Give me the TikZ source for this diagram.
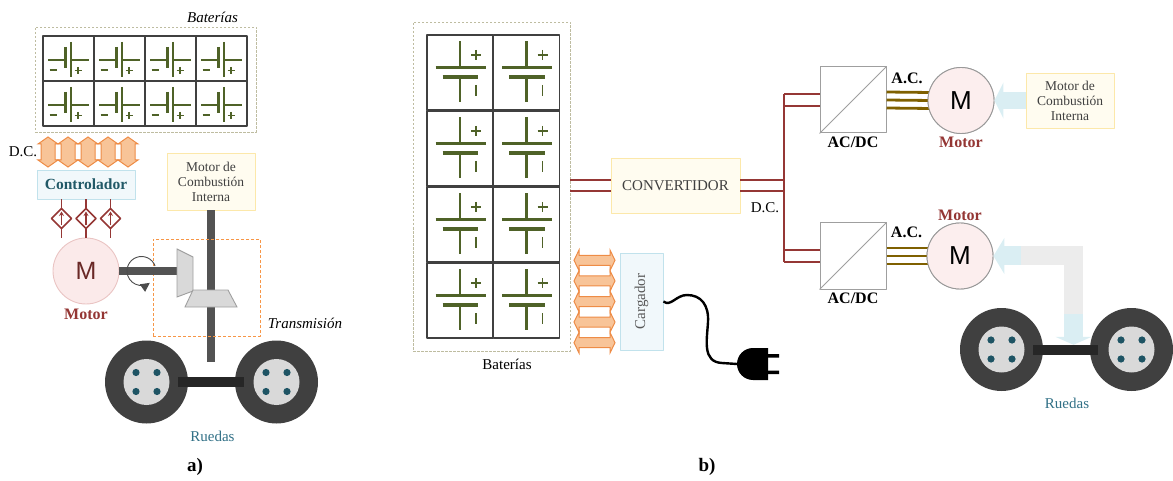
\documentclass[tikz,border=0pt]{standalone}
\usepackage{fontspec}
\setmainfont{Liberation Serif}
\newfontfamily\msans{Liberation Sans}
\usetikzlibrary{arrows.meta,positioning,calc}

\definecolor{batgreen}{RGB}{79,98,40}
\definecolor{packedge}{RGB}{190,188,160}
\definecolor{wirered}{RGB}{149,55,53}
\definecolor{acbrown}{RGB}{127,96,0}
\definecolor{dcorange}{RGB}{248,196,152}
\definecolor{dcedge}{RGB}{238,140,70}
\definecolor{transorange}{RGB}{247,150,70}
\definecolor{ctrlteal}{RGB}{33,89,103}
\definecolor{ruedablue}{RGB}{49,112,134}
\definecolor{tire}{RGB}{64,64,64}
\definecolor{hub}{RGB}{217,217,217}
\definecolor{bolt}{RGB}{30,84,100}
\definecolor{axlecol}{RGB}{38,38,38}
\definecolor{motpink}{RGB}{251,234,234}
\definecolor{motedge}{RGB}{234,196,195}
\definecolor{motred}{RGB}{148,54,52}
\definecolor{mred}{RGB}{105,40,38}
\definecolor{yelfill}{RGB}{255,252,240}
\definecolor{yeledge}{RGB}{252,232,170}
\definecolor{bluefill}{RGB}{241,248,251}
\definecolor{blueedge}{RGB}{193,226,236}
\definecolor{flowblue}{RGB}{218,238,243}
\definecolor{flowgray}{RGB}{236,236,236}

\newcommand\fsz[2]{\fontsize{#1}{#2}\selectfont}

\tikzset{
  cellbox/.style={draw=black!75, line width=1.4pt, fill=white},
  batline/.style={draw=batgreen, line width=2.2pt},
  batsign/.style={draw=batgreen, line width=1.8pt},
  packframe/.style={draw=packedge, dash pattern=on 2.5pt off 1.5pt, line width=0.8pt, inner sep=0pt},
  transframe/.style={draw=transorange, dash pattern=on 3pt off 2pt, line width=0.9pt, inner sep=0pt},
  dcflow/.style={fill=dcorange, draw=dcedge, line width=1pt, line join=miter},
  ctrlwire/.style={draw=wirered, line width=1.5pt},
  dcwire/.style={draw=wirered, line width=2.3pt},
  acwire/.style={draw=acbrown, line width=2.8pt},
  yelbox/.style={draw=yeledge, fill=yelfill, line width=0.9pt, inner sep=0pt, align=center, text=black!75},
  bluebox/.style={draw=blueedge, fill=bluefill, line width=0.9pt, inner sep=0pt, align=center},
  acdcbox/.style={draw=gray!75, fill=white, line width=1pt, minimum size=66pt, inner sep=0pt},
  motora/.style={circle, draw=motedge, fill=motpink, line width=0.9pt, minimum size=66pt, inner sep=0pt, text=mred, font=\msans\fsz{25}{25}},
  motorb/.style={circle, draw=gray!80, fill=motpink!80, line width=0.9pt, minimum size=66pt, inner sep=0pt, font=\msans\fsz{26}{26}},
  shaft/.style={draw=gray!65!black, line width=8pt},
  gear/.style={draw=gray!75, fill=hub, line width=0.9pt, line join=miter},
  spin/.style={draw=gray!60!black, line width=0.9pt, -{Triangle[length=9pt,width=9pt]}},
  flowarrow/.style={draw=flowblue, line width=#1},
  axle/.style={fill=axlecol, inner sep=0pt},
  lbl/.style={font=\fsz{15}{18}},
  italbl/.style={font=\itshape\fsz{15}{18}},
  boldlbl/.style={font=\bfseries\fsz{16}{19}},
}

% one battery cell lying down, top left corner at (#1,#2)
\newcommand\batcellh[2]
{
\begin{scope}[shift={(#1,#2)}]
\draw[cellbox] (0,0) rectangle (51,45);
\draw[batline] (5,24)--(22.5,24);
\draw[batline,line width=3.6pt] (22.5,11)--(22.5,32);
\draw[batline] (28,6)--(28,41);
\draw[batline] (28,24)--(45.5,24);
\draw[batsign] (6.5,34)--(13.5,34);
\draw[batsign] (31.5,34.5)--(38.5,34.5) (35,31)--(35,38);
\end{scope}
}

% one battery cell standing up, top left corner at (#1,#2)
\newcommand\batcellv[2]
{
\begin{scope}[shift={(#1,#2)}]
\draw[cellbox] (0,0) rectangle (66,75);
\draw[batline] (33,6.5)--(33,32.5);
\draw[batline] (8.5,32.5)--(58.5,32.5);
\draw[batline,line width=4pt] (15.5,42)--(51,42);
\draw[batline] (33,42)--(33,67);
\draw[batsign] (44,20)--(54,20) (49,15)--(49,25);
\draw[batsign] (49,50)--(49,61);
\end{scope}
}

% two-way block arrows, centre at (#1,#2)
\newcommand\dcarrowv[2]
{
\draw[dcflow] (#1,#2-15)--(#1+10,#2-8)--(#1+7,#2-8)--(#1+7,#2+8)--(#1+10,#2+8)--(#1,#2+15)
  --(#1-10,#2+8)--(#1-7,#2+8)--(#1-7,#2-8)--(#1-10,#2-8)--cycle;
}
\newcommand\dcarrowh[2]
{
\draw[dcflow] (#1-20.5,#2)--(#1-15.5,#2-10.3)--(#1-15.5,#2-5)--(#1+15.5,#2-5)--(#1+15.5,#2-10.3)--(#1+20.5,#2)
  --(#1+15.5,#2+10.3)--(#1+15.5,#2+5)--(#1-15.5,#2+5)--(#1-15.5,#2+10.3)--cycle;
}

% wheel with hub and four bolts
\newcommand\wheel[2]
{
\fill[tire] (#1,#2) circle[radius=41.5];
\fill[hub] (#1,#2) circle[radius=23];
\foreach \bx in {-10.5,10.5} \foreach \by in {-9.5,9.5}
  {\fill[bolt] (#1+\bx,#2+\by) circle[radius=3.6];}
}

\begin{document}
\begin{tikzpicture}[x=1pt,y=-1pt,line join=round]
\useasboundingbox (0,0) rectangle (1173,481);

%% a) parallel hybrid
\node[packframe, minimum width=221pt, minimum height=105pt] (packa) at (145.5,79.5) {};
\foreach \i in {0,...,3} \foreach \j in {0,1} {\batcellh{43+51*\i}{36+45*\j}}
\node[italbl] at (212.5,17) {Baterías};

\foreach \x in {48,68,88,108,128} {\dcarrowv{\x}{152}}
\node[lbl] at (23,152) {D.C.};

\node[bluebox, minimum width=98pt, minimum height=29pt, text=ctrlteal, font=\bfseries\fsz{15.5}{18}] (ctrl) at (86,184.5) {Controlador};
\node[motora] (mota) at (86,271) {M};
\node[boldlbl, text=motred, below=1pt of mota] {Motor};

\foreach \dx in {-24.5,0,24.5}
{
\draw[ctrlwire] ($(ctrl.south)+(\dx,0)$) -- ($(mota.north)+(\dx,0)$);
\coordinate (dm) at ($(ctrl.south)!0.5!(mota.north)+(\dx,0)$);
\draw[ctrlwire,fill=white] ($(dm)+(0,-10)$)--($(dm)+(10,0)$)--($(dm)+(0,10)$)--($(dm)+(-10,0)$)--cycle;
\draw[ctrlwire,-{Stealth[length=4.5pt,width=5pt]}] ($(dm)+(0,7)$)--($(dm)+(0,-7)$);
}

\node[yelbox, minimum width=88pt, minimum height=57pt, font=\fsz{13.5}{15}] (mcia) at (211,181.5) {Motor de\\Combustión\\Interna};
\coordinate (shaftend) at (211,362);
\draw[shaft] (mcia.south) -- (mcia.south |- shaftend);

\node[transframe, minimum width=107pt, minimum height=97pt] (trans) at (206.5,287.5) {};
\node[italbl] at (305,323) {Transmisión};

\draw[shaft] (mota.east) -- ++(60,0);
\draw[spin] (141.5,271) ++(340:14.5) arc[start angle=340, end angle=55, radius=14.5];
\draw[gear] (177,249)--(193,257)--(193,291)--(177,297)--cycle;
\draw[gear] (193,290)--(228,290)--(237,307)--(185,307)--cycle;

\wheel{146.5}{382}
\wheel{276.5}{382}
\node[axle, minimum width=66pt, minimum height=10pt] (axlea) at (211,382) {};
\node[lbl, text=ruedablue] at (212.5,436) {Ruedas};
\node[font=\bfseries\fsz{19}{22}] at (195,467) {a)};

%% b) series hybrid
\node[packframe, minimum width=157pt, minimum height=329pt] (packb) at (491.5,186.5) {};
\foreach \i in {0,1} \foreach \j in {0,...,3} {\batcellv{427+66.5*\i}{35+76*\j}}
\node[lbl] at (507,364) {Baterías};

\node[yelbox, minimum width=129pt, minimum height=55pt, font=\fsz{15}{18}] (conv) at (675.5,185.5) {CONVERTIDOR};
\coordinate (bus) at (784,0);
\node[acdcbox] (acdc1) at (853,100) {};
\node[acdcbox] (acdc2) at (853,256) {};
\draw[gray!75, line width=0.8pt] (acdc1.south west) -- (acdc1.north east);
\draw[gray!75, line width=0.8pt] (acdc2.south west) -- (acdc2.north east);

\foreach \dy in {-5.5,5.5}
{
\draw[dcwire] ($(packb.east |- conv.west)+(0,\dy)$) -- ($(conv.west)+(0,\dy)$);
\draw[dcwire] ($(conv.east)+(0,\dy)$) -- ($(bus |- conv.east)+(0,\dy)$);
}
\foreach \n in {1,2} \foreach \dy in {-6,6}
  {\draw[dcwire] ($(bus |- acdc\n.west)+(0,\dy)$) -- ($(acdc\n.west)+(0,\dy)$);}
\draw[dcwire] ($(bus |- acdc1.west)+(0,-6)$) -- ($(bus |- acdc2.west)+(0,6)$);
\node[lbl] at (765,208) {D.C.};

\node[motorb] (mot1) at (961,100.5) {};
\node[motorb] (mot2) at (960,256) {};
\foreach \n in {1,2} \foreach \dy in {-8,0,8}
  {\draw[acwire] ($(acdc\n.east)+(0,\dy)$) -- ($(mot\n.west)+(3,\dy)$);}
\node[motorb] at (mot1) {M};
\node[motorb] at (mot2) {M};
\node[boldlbl] at ($(acdc1.east)!0.5!(mot1.west)+(0,-22)$) {A.C.};
\node[boldlbl] at ($(acdc2.east)!0.5!(mot2.west)+(0,-24)$) {A.C.};
\node[boldlbl, below=0pt of acdc1] {AC/DC};
\node[boldlbl, below=0pt of acdc2] {AC/DC};
\node[boldlbl, text=motred, below=0pt of mot1] {Motor};
\node[boldlbl, text=motred, above=-2pt of mot2] {Motor};

\node[yelbox, minimum width=88pt, minimum height=55pt, font=\fsz{13.5}{15}] (mcib) at (1070,100.5) {Motor de\\Combustión\\Interna};
\draw[flowarrow=17pt, -{Triangle[length=9pt,width=36pt]}] (mcib.west) -- (mot1.east);

% wheels give power back to the motor
\wheel{1001.5}{349.5}
\wheel{1131.5}{349.5}
\node[axle, minimum width=65pt, minimum height=10pt] (axleb) at (1065.5,350) {};
\coordinate (bend) at (1073.5,256);
\coordinate (drop) at (1073.5,314);
\coordinate (turn) at (1021,256);
\draw[flowarrow=19pt, draw=flowgray, line join=miter] (turn) -- (bend) -- (drop);
\draw[flowarrow=19pt, -{Triangle[length=11pt,width=36pt]}] (turn) -- (mot2.east);
\draw[flowarrow=19pt, -{Triangle[length=8pt,width=36pt]}] (drop) -- (axleb.north -| drop);
\node[lbl, text=ruedablue] at (1067,403) {Ruedas};

% charger with its plug
\foreach \k in {0,...,4} {\dcarrowh{594.5}{260.3+20.6*\k}}
\node[bluebox, minimum width=43pt, minimum height=97pt] (carg) at (641.5,301.5) {};
\node[lbl, text=black!65, rotate=90] at (carg) {Cargador};
\coordinate (plug) at (737,364);
\draw[black, line width=2.4pt] (carg.east) .. controls (671,307) and (676,295) .. (687,295)
  .. controls (701,295) and (709,305) .. (708,322) .. controls (707,340) and (702,362) .. (722,363) -- (plug);
\fill[black] (753,348) -- (768,348) -- (768,380) -- (753,380) arc[start angle=90, end angle=270, radius=16] -- cycle;
\fill[black] (767,354) rectangle (779,357.5) (767,370.5) rectangle (779,374);
\node[font=\bfseries\fsz{19}{22}] at (707,467) {b)};
\end{tikzpicture}
\end{document}
